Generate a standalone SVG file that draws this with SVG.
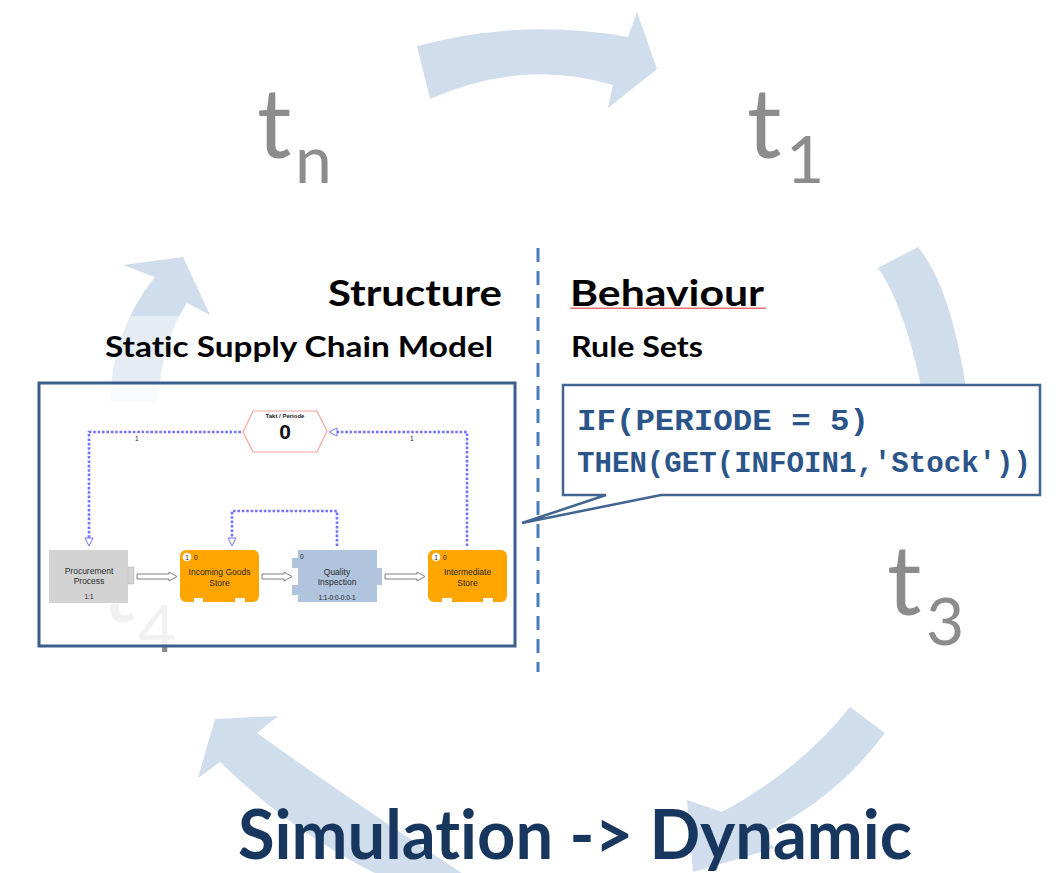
<svg xmlns="http://www.w3.org/2000/svg" width="1060" height="873" viewBox="0 0 1060 873">
<defs>
<style>
.cyc{fill:#d0ddec;stroke:none}
.tl{font-family:Lato,"Open Sans",sans-serif;fill:#8c8c8c}
.h{font-family:Lato,"Open Sans",sans-serif;font-weight:bold;fill:#000;font-variant-ligatures:none;font-feature-settings:"liga" 0}
.dot{fill:none;stroke:#7373ff;stroke-width:2.6;stroke-dasharray:2.6 1.8}
.oah{fill:#fff;stroke:#7373ff;stroke-width:1}
.flow{fill:#fff;stroke:#808080;stroke-width:1}
.nt{font-family:"Liberation Sans",Arial,sans-serif;font-size:8.5px;fill:#2a2a2a;text-anchor:middle}
.sm{font-family:"Liberation Sans",Arial,sans-serif;font-size:6.5px;fill:#222}
.code{font-family:"Liberation Mono","Courier New",monospace;font-weight:bold;font-size:30px;fill:#2b5489}
</style>
<pattern id="wavy" x="570" y="306" width="4" height="4" patternUnits="userSpaceOnUse">
<polyline points="0,3 1,1.5 2,3 3,1.5 4,3" fill="none" stroke="#e03030" stroke-width="0.8"/>
</pattern>
<clipPath id="t4clip"><rect x="60" y="604" width="140" height="60"/></clipPath>
</defs>

<g id="cycle-arrows">
<path class="cyc" d="M417,46 Q521,18 628,37 L637,12 L657,69 L608,108 L613,85 Q522,58 430,99 Z"/>
<path class="cyc" d="M878,268 L918,247 Q962,300 975,470 L935,470 Q915,320 878,268 Z"/>
<path class="cyc" d="M850,707 L885,733 Q835,800 760,835 L775,848 L693,872 L687,800 L722,812 Q800,770 850,707 Z"/>
<path class="cyc" d="M278,716 L215,719 L198,778 L220,762 Q300,840 400,885 L480,885 Q350,800 257,733 Z"/>
<path class="cyc" d="M110,402 Q112,330 155,277 L123,265 L183,257 L210,315 L187,303 Q162,340 158,402 Z"/>
</g>

<g id="time-labels">
<g id="t-n"><text class="tl" x="257" y="158" font-size="96">t</text><text class="tl" x="295" y="183" font-size="66">n</text></g>
<g id="t-1"><text class="tl" x="747" y="158" font-size="96">t</text><text class="tl" x="786" y="183" font-size="66">1</text></g>
<g id="t-3"><text class="tl" x="887" y="615" font-size="96">t</text><text class="tl" x="926" y="645" font-size="66">3</text></g>
<g id="t-4" clip-path="url(#t4clip)"><text class="tl" x="101" y="622" font-size="96">t</text><text class="tl" x="138" y="652" font-size="66">4</text></g>
</g>

<rect x="80" y="316" width="425" height="66" fill="#fff" fill-opacity="0.45"/>

<g id="headings">
<text class="h" x="328" y="306" font-size="36" textLength="174" lengthAdjust="spacingAndGlyphs">Structure</text>
<text class="h" x="570" y="306" font-size="36" textLength="194" lengthAdjust="spacingAndGlyphs">Behaviour</text>
<rect x="570" y="306" width="196" height="4" fill="url(#wavy)"/>
<text class="h" x="105" y="357" font-size="29" textLength="388" lengthAdjust="spacingAndGlyphs">Static Supply Chain Model</text>
<text class="h" x="571" y="357" font-size="29" textLength="132" lengthAdjust="spacingAndGlyphs">Rule Sets</text>
</g>

<line id="divider" x1="538" y1="248" x2="538" y2="672" stroke="#4a7ebb" stroke-width="3" stroke-dasharray="14 9"/>

<g id="model-box">
<rect x="39" y="383" width="476" height="263" fill="#fff" fill-opacity="0.88" stroke="#3b5e8c" stroke-width="3"/>
</g>

<g id="connectors">
<path class="dot" d="M241,432 H89 V539"/>
<polygon class="oah" points="85,538 93,538 89,546"/>
<text class="sm" x="135" y="441">1</text>
<path class="dot" d="M467,546 V432 H336"/>
<polygon class="oah" points="337,428 337,436 329,432"/>
<text class="sm" x="410" y="441">1</text>
<path class="dot" d="M337,546 V511 H232 V539"/>
<polygon class="oah" points="228,538 236,538 232,546"/>
<polygon class="flow" points="137,574 169,574 169,572 177,576.5 169,581 169,579 137,579"/>
<polygon class="flow" points="262,574 284,574 284,572 292,576.5 284,581 284,579 262,579"/>
<polygon class="flow" points="385,574 417,574 417,572 425,576.5 417,581 417,579 385,579"/>
</g>

<g id="takt">
<polygon points="243,432 253,411 317,411 327,431 317,452 253,452" fill="#fff" stroke="#f5a3a3" stroke-width="1.2"/>
<text x="285" y="418" font-family="Liberation Sans,Arial,sans-serif" font-size="6" font-weight="bold" text-anchor="middle" fill="#222">Takt / Periode</text>
<text x="285" y="439" font-family="Liberation Sans,Arial,sans-serif" font-size="21" font-weight="bold" text-anchor="middle" fill="#111">0</text>
</g>

<g id="procurement">
<rect x="49" y="550" width="79" height="53" fill="#d3d3d3"/>
<rect x="128" y="567" width="6" height="17" fill="#d3d3d3" stroke="#bcbcbc" stroke-width="0.6"/>
<text class="nt" x="89" y="574">Procurement</text>
<text class="nt" x="89" y="584">Process</text>
<text class="sm" x="89" y="599" text-anchor="middle">1:1</text>
</g>

<g id="incoming">
<rect x="180" y="550" width="79" height="52" rx="6" fill="#ffa500"/>
<rect x="194" y="598" width="9" height="4" fill="#fff"/>
<rect x="235" y="598" width="10" height="4" fill="#fff"/>
<circle cx="187" cy="557" r="4.3" fill="#fff"/>
<text class="sm" x="187" y="559.5" text-anchor="middle">1</text>
<text class="sm" x="194" y="559.5">0</text>
<text class="nt" x="219.5" y="575">Incoming Goods</text>
<text class="nt" x="219.5" y="586">Store</text>
</g>

<g id="quality">
<rect x="292" y="558" width="7" height="10" fill="#b0c4de"/>
<rect x="292" y="585" width="7" height="10" fill="#b0c4de"/>
<rect x="376" y="568" width="6" height="17" fill="#b0c4de"/>
<rect x="298" y="550" width="79" height="52" fill="#b0c4de"/>
<text class="sm" x="300" y="559">0</text>
<text class="nt" x="337" y="575">Quality</text>
<text class="nt" x="337" y="585">Inspection</text>
<text class="sm" x="337" y="600" text-anchor="middle">1:1-0:0-0:0-1</text>
</g>

<g id="intermediate">
<rect x="428" y="550" width="79" height="52" rx="6" fill="#ffa500"/>
<rect x="442" y="598" width="10" height="4" fill="#fff"/>
<rect x="483" y="598" width="10" height="4" fill="#fff"/>
<circle cx="436" cy="557" r="4.3" fill="#fff"/>
<text class="sm" x="436" y="559.5" text-anchor="middle">1</text>
<text class="sm" x="443" y="559.5">0</text>
<text class="nt" x="467.5" y="575">Intermediate</text>
<text class="nt" x="467.5" y="586">Store</text>
</g>

<g id="callout">
<path d="M563,385 H1040 V495 H661 L522,523 L606,495 H563 Z" fill="#fff" stroke="#41658f" stroke-width="2.5" stroke-linejoin="miter"/>
<text class="code" x="577" y="430" textLength="292" lengthAdjust="spacingAndGlyphs">IF(PERIODE = 5)</text>
<text class="code" x="577" y="472" textLength="454" lengthAdjust="spacingAndGlyphs">THEN(GET(INFOIN1,'Stock'))</text>
</g>

<text id="title" class="h" x="238" y="859" font-size="68" style="fill:#17375e" textLength="674" lengthAdjust="spacingAndGlyphs">Simulation -&gt; Dynamic</text>
</svg>
